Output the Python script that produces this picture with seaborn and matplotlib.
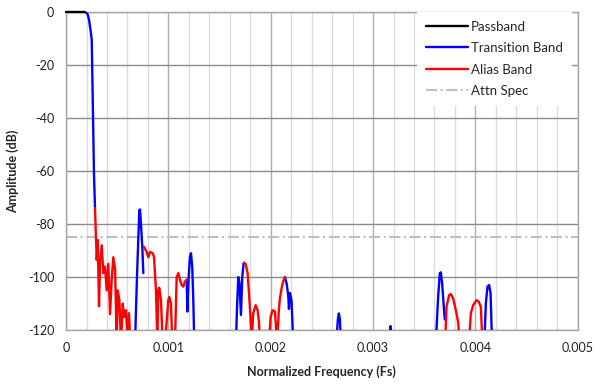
import numpy as np
import pandas as pd
import matplotlib
matplotlib.use("Agg")
import matplotlib.pyplot as plt
from matplotlib.ticker import MultipleLocator, FuncFormatter
from matplotlib.lines import Line2D
import seaborn as sns

# Passband (Fs, dB)
pass_x = [0.0, 1.0e-4, 1.86e-4]
pass_y = [0.0, 0.0, 0.0]

# Transition band pieces (Fs), one list per visible piece
trans_x = [
    [1.86e-4, 2.00e-4, 2.12e-4, 2.25e-4, 2.40e-4, 2.51e-4, 2.73e-4, 2.83e-4],
    [6.74e-4, 6.93e-4, 7.16e-4, 7.23e-4, 7.32e-4, 7.45e-4, 7.55e-4],
    [11.79e-4, 11.85e-4, 11.98e-4, 12.11e-4, 12.21e-4, 12.33e-4, 12.43e-4, 12.53e-4],
    [16.60e-4, 16.70e-4, 16.83e-4, 16.94e-4, 17.09e-4, 17.22e-4, 17.35e-4, 17.41e-4],
    [21.39e-4, 21.55e-4, 21.71e-4, 21.78e-4, 21.88e-4, 22.04e-4, 22.20e-4],
    [26.40e-4, 26.56e-4, 26.66e-4, 26.76e-4, 26.86e-4],
    [31.59e-4, 31.71e-4, 31.79e-4],
    [36.13e-4, 36.36e-4, 36.52e-4, 36.62e-4, 36.75e-4, 36.91e-4, 37.01e-4],
    [40.87e-4, 41.02e-4, 41.18e-4, 41.34e-4, 41.48e-4, 41.63e-4],
]
trans_y = [
    [0, -0.3, -1, -3, -7, -10.5, -61, -74],
    [-125, -100, -74.7, -74.5, -80, -88.5, -98.5],
    [-101, -113, -100, -92.3, -91, -96, -108, -125],
    [-125, -112, -100, -102, -114.3, -99.9, -94.8, -94.6],
    [-100, -102.4, -106.8, -112, -106, -109, -125],
    [-125, -116, -113.7, -116, -125],
    [-125, -118.5, -125],
    [-125, -107.4, -98.6, -98.2, -102.4, -111.2, -116],
    [-125, -110, -103.6, -103, -106, -125],
]

# Alias band pieces (Fs)
alias_x = [
    [2.83e-4, 2.93e-4, 3.00e-4, 3.10e-4, 3.22e-4, 3.32e-4, 3.49e-4, 3.64e-4, 3.81e-4,
     3.97e-4, 4.13e-4, 4.30e-4, 4.46e-4, 4.62e-4, 4.79e-4, 4.95e-4, 5.05e-4, 5.21e-4,
     5.37e-4, 5.54e-4, 5.69e-4, 5.86e-4, 6.03e-4, 6.15e-4, 6.28e-4],
    [7.60e-4, 7.88e-4, 8.04e-4, 8.20e-4, 8.47e-4, 8.59e-4, 8.79e-4, 8.92e-4, 9.01e-4,
     9.11e-4, 9.28e-4, 9.44e-4, 9.67e-4, 9.99e-4, 10.09e-4, 10.25e-4, 10.38e-4, 10.64e-4,
     10.81e-4, 10.97e-4, 11.13e-4, 11.30e-4, 11.46e-4, 11.62e-4, 11.79e-4],
    [17.41e-4, 17.55e-4, 17.74e-4, 17.90e-4, 18.02e-4, 18.13e-4, 18.29e-4, 18.53e-4,
     18.72e-4, 18.85e-4, 18.95e-4, 19.82e-4, 19.99e-4, 20.18e-4, 20.41e-4, 20.63e-4,
     20.80e-4, 20.90e-4, 21.12e-4, 21.32e-4, 21.39e-4],
    [37.04e-4, 37.18e-4, 37.43e-4, 37.60e-4, 37.82e-4, 38.09e-4, 38.31e-4, 38.48e-4,
     39.38e-4, 39.55e-4, 39.78e-4, 40.11e-4, 40.33e-4, 40.53e-4, 40.69e-4],
]
alias_y = [
    [-74, -86, -93.6, -86, -111, -95, -88, -98.5, -96, -105, -95, -114, -101, -92.5, -97,
     -125, -105, -108.7, -125, -110, -115, -112.5, -125, -113.6, -125],
    [-88.5, -90.5, -92.5, -90.5, -91, -92.3, -105, -125, -105, -104, -108.7, -125, -125,
     -108.7, -107.5, -110, -125, -125, -100, -98.5, -101, -103, -103.6, -101.7, -101],
    [-94.6, -95, -98.5, -107.4, -115, -125, -113.7, -110.6, -112.5, -117, -125, -125, -115,
     -112.5, -113, -125, -112, -108, -103, -100.5, -100],
    [-125, -111.2, -106.8, -106.4, -108, -112.5, -116.9, -125, -125, -113.7, -110.6,
     -108.7, -109.3, -111.2, -125],
]

attn_spec = -85
labels = ["Passband", "Transition Band", "Alias Band", "Attn Spec"]

rows = []
seg = 0
for band, xs_list, ys_list in [("Transition Band", trans_x, trans_y), ("Alias Band", alias_x, alias_y)]:
    for xs, ys in zip(xs_list, ys_list):
        for xv, yv in zip(xs, ys):
            rows.append({"x": xv, "y": yv, "band": band, "seg": seg})
        seg += 1
df = pd.DataFrame(rows)

sns.set_style("white")
plt.rcParams['font.family'] = ['Lato', 'DejaVu Sans']
plt.rcParams['axes.unicode_minus'] = False

fig = plt.figure(figsize=(5.95, 3.87), dpi=100)
ax = fig.add_axes([0.111, 0.147, 0.86, 0.822])

ax.axhline(attn_spec, color="#bfbfbf", linewidth=1.5, dashes=(5.3, 1.7, 1, 1.7), zorder=2)
sns.lineplot(data=df, x="x", y="y", hue="band", units="seg", estimator=None, sort=False,
             palette={"Transition Band": "#0000ff", "Alias Band": "#ff0000"},
             linewidth=1.7, legend=False, ax=ax, zorder=3)
sns.lineplot(x=pass_x, y=pass_y, color="black", linewidth=1.7, ax=ax, zorder=4, clip_on=False)

ax.set_xlim(0, 0.005)
ax.set_ylim(-120, 0)
ax.xaxis.set_major_locator(MultipleLocator(0.001))
ax.xaxis.set_minor_locator(MultipleLocator(0.0002))
ax.yaxis.set_major_locator(MultipleLocator(20))
ax.xaxis.set_major_formatter(FuncFormatter(lambda v, p: "0" if abs(v) < 1e-9 else f"{v:.3f}"))
ax.yaxis.set_major_formatter(FuncFormatter(lambda v, p: f"{int(round(v))}"))

ax.grid(which="minor", axis="x", color="#dcdcdc", linewidth=1.0)
ax.grid(which="major", axis="x", color="#b0b0b0", linewidth=1.0)
ax.grid(which="major", axis="y", color="#8c8c8c", linewidth=1.0)
ax.set_axisbelow(True)

for s in ax.spines.values():
    s.set_color("#a6a6a6")
    s.set_linewidth(1.0)

ax.tick_params(axis="both", which="major", direction="out", length=5, width=1.0,
               color="#a6a6a6", labelsize=9, labelcolor="#202020")
ax.tick_params(axis="x", which="minor", length=0)

ax.set_xlabel("Normalized Frequency (Fs)", fontsize=9, fontweight="bold", labelpad=8)
ax.set_ylabel("Amplitude (dB)", fontsize=9, fontweight="bold", labelpad=6)

handles = [
    Line2D([], [], color="black", linewidth=1.7),
    Line2D([], [], color="#0000ff", linewidth=1.7),
    Line2D([], [], color="#ff0000", linewidth=1.7),
    Line2D([], [], color="#bfbfbf", linewidth=1.5, dashes=(5.3, 1.7, 1, 1.7)),
]
leg = ax.legend(handles, labels, loc="upper right", bbox_to_anchor=(0.988, 1.0),
                borderaxespad=0, borderpad=0.65, fontsize=9.5, handlelength=3.2,
                handletextpad=0.25, labelspacing=0.72, frameon=True, framealpha=1,
                fancybox=False)
leg.get_frame().set_edgecolor("none")
leg.set_zorder(5)

fig.savefig("out.png", dpi=100)
